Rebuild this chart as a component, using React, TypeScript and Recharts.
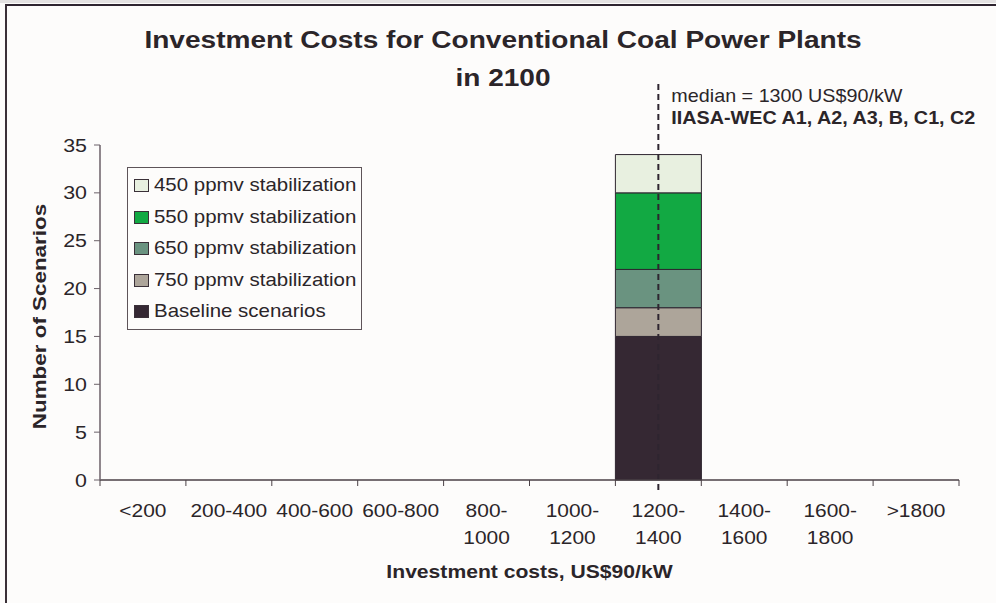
import React from 'react';
import { BarChart, Bar, XAxis, YAxis, Legend, ReferenceLine, Label } from 'recharts';

// ---------- data ----------
const categories = ['<200', '200-400', '400-600', '600-800', '800-\n1000', '1000-\n1200', '1200-\n1400', '1400-\n1600', '1600-\n1800', '>1800'];
const baselineScenarios = [0, 0, 0, 0, 0, 0, 15, 0, 0, 0];
const ppmv750 = [0, 0, 0, 0, 0, 0, 3, 0, 0, 0];
const ppmv650 = [0, 0, 0, 0, 0, 0, 4, 0, 0, 0];
const ppmv550 = [0, 0, 0, 0, 0, 0, 8, 0, 0, 0];
const ppmv450 = [0, 0, 0, 0, 0, 0, 4, 0, 0, 0];
const yTicks = [0, 5, 10, 15, 20, 25, 30, 35];
const medianCategory = '1200-\n1400';
const medianLabel = 'median = 1300 US$90/kW';
const scenarioLabel = 'IIASA-WEC A1, A2, A3, B, C1, C2';
const titleLines = ['Investment Costs for Conventional Coal Power Plants', 'in 2100'];
const xAxisTitle = 'Investment costs, US$90/kW';
const yAxisTitle = 'Number of Scenarios';

const series = [
  { key: 'baseline', name: 'Baseline scenarios', color: '#352833', values: baselineScenarios },
  { key: 'p750', name: '750 ppmv stabilization', color: '#ada59a', values: ppmv750 },
  { key: 'p650', name: '650 ppmv stabilization', color: '#6a9380', values: ppmv650 },
  { key: 'p550', name: '550 ppmv stabilization', color: '#12a943', values: ppmv550 },
  { key: 'p450', name: '450 ppmv stabilization', color: '#e8f0e0', values: ppmv450 },
];

const data = categories.map((cat, i) => {
  const row: Record<string, any> = { cat };
  series.forEach((s) => { row[s.key] = s.values[i]; });
  return row;
});

// ---------- styles ----------
const FONT = '"Liberation Sans", Arial, Helvetica, sans-serif';
const TEXT = '#2b2529';
const BG = '#fdfcfb';
const X_TICK_SIZE = 6;
const K = 1.15; // horizontal glyph stretch of the reference's font

const stretch = (x: number, k: number = K) => `translate(${x} 0) scale(${k} 1) translate(${-x} 0)`;

const CatTick = (props: any) => {
  const { x, y, payload, index } = props;
  const lines = String(payload.value).split('\n');
  const half = payload.offset ?? 0;
  const axisY = y - X_TICK_SIZE;
  const isLast = payload.value === categories[categories.length - 1] || index === categories.length - 1;
  return (
    <g>
      <line x1={x - half} x2={x - half} y1={axisY} y2={axisY + X_TICK_SIZE} stroke="#4a4046" strokeWidth={1} />
      {isLast && <line x1={x + half} x2={x + half} y1={axisY} y2={axisY + X_TICK_SIZE} stroke="#4a4046" strokeWidth={1} />}
      <text x={x} y={y} transform={stretch(x)} textAnchor="middle" fill={TEXT} fontSize={18.2} fontFamily={FONT}>
        {lines.map((l, i) => (
          <tspan key={i} x={x} dy={i === 0 ? 31 : 27}>{l}</tspan>
        ))}
      </text>
    </g>
  );
};

const ValueTick = (props: any) => {
  const { x, y, payload } = props;
  return (
    <text x={x} y={y} dy="0.355em" transform={stretch(x)} textAnchor="end" fill={TEXT} fontSize={18.6} fontFamily={FONT}>
      {payload.value}
    </text>
  );
};

const MedianShape = (p: any) => {
  const x = p.x1;
  const top = Math.min(p.y1, p.y2);
  const bottom = Math.max(p.y1, p.y2);
  const tx = x + 13;
  return (
    <g>
      <line x1={x} x2={x} y1={top - 61} y2={bottom + 12} stroke="#2e2530" strokeWidth={2} strokeDasharray="6 4" />
      <text x={tx} y={top - 43} transform={stretch(tx, 1.11)} fill={TEXT} fontSize={17.8} fontFamily={FONT}>{medianLabel}</text>
      <text x={tx} y={top - 21} transform={stretch(tx, 1.11)} fill={TEXT} fontSize={17.8} fontWeight="bold" fontFamily={FONT}>{scenarioLabel}</text>
    </g>
  );
};

const LegendBox = (props: any) => {
  const payload = props.payload || [];
  const order = (v: string) => series.findIndex((s) => s.name === v);
  const items = [...payload].sort((a: any, b: any) => order(b.value) - order(a.value));
  return (
    <div style={{ border: '1px solid #5e5459', background: BG, padding: '2px 6px 1px 6px', fontFamily: FONT, fontSize: 17.8, color: TEXT, width: 221 }}>
      {items.map((it: any) => (
        <div key={it.value} style={{ display: 'flex', alignItems: 'center', height: 31.5, whiteSpace: 'nowrap' }}>
          <span style={{ display: 'inline-block', width: 13, height: 11, border: '1px solid #3a3038', background: it.color, marginRight: 5, flex: 'none' }} />
          <span style={{ display: 'inline-block', transform: 'scaleX(1.15)', transformOrigin: 'left center' }}>{it.value}</span>
        </div>
      ))}
    </div>
  );
};

export default function App() {
  return (
    <div style={{ position: 'absolute', left: 0, top: 0, width: 996, height: 603, background: BG, overflow: 'hidden' }}>
      <style>{'body{margin:0;background:' + BG + ';}'}</style>
      <div style={{ position: 'absolute', left: 0, top: 0, width: 996, height: 3, background: '#e4e2e2' }} />
      <div style={{ position: 'absolute', left: 0, top: 21, width: 1006, textAlign: 'center', fontFamily: FONT, fontWeight: 'bold', fontSize: 23, lineHeight: '38px', color: TEXT, zIndex: 2, transform: 'scaleX(1.22)', transformOrigin: '503px 0' }}>
        {titleLines.map((t) => (<div key={t}>{t}</div>))}
      </div>
      <BarChart width={996} height={603} data={data} margin={{ top: 145, right: 37, bottom: 0, left: 0 }} barCategoryGap={0} barGap={0}>
        <XAxis xAxisId="top" orientation="top" dataKey="cat" height={0} tick={false} tickLine={false} axisLine={{ stroke: '#aca49f', strokeWidth: 1.5 }} />
        <YAxis yAxisId="right" orientation="right" width={0} domain={[0, 35]} tick={false} tickLine={false} axisLine={{ stroke: '#aca49f', strokeWidth: 1.5 }} />
        <XAxis dataKey="cat" height={123} interval={0} tickLine={false} tickSize={X_TICK_SIZE} tickMargin={0} tick={<CatTick />} axisLine={{ stroke: '#4a4046', strokeWidth: 1.5 }}>
          <Label
            content={(lp: any) => {
              const vb = lp.viewBox || {};
              const cx = vb.x + vb.width / 2;
              return (
                <text x={cx} y={vb.y + 98} transform={stretch(cx, 1.1)} textAnchor="middle" fill={TEXT} fontSize={19.2} fontWeight="bold" fontFamily={FONT}>{xAxisTitle}</text>
              );
            }}
          />
        </XAxis>
        <YAxis width={100} domain={[0, 35]} ticks={yTicks} interval={0} tickSize={6} tickMargin={7}
          tick={<ValueTick />} tickLine={{ stroke: '#6b6168' }} axisLine={{ stroke: '#6b6168', strokeWidth: 1.5 }}>
          <Label
            content={(lp: any) => {
              const vb = lp.viewBox || {};
              const cx = vb.x + 46;
              const cy = vb.y + vb.height / 2 + 4;
              return (
                <text x={cx} y={cy} transform={`rotate(-90, ${cx}, ${cy}) ${stretch(cx, 1.18)}`} textAnchor="middle" fill={TEXT} fontSize={19} fontWeight="bold" fontFamily={FONT}>{yAxisTitle}</text>
              );
            }}
          />
        </YAxis>
        {series.map((s) => (
          <Bar key={s.key} dataKey={s.key} name={s.name} stackId="stack" fill={s.color} stroke="#2e2530" strokeWidth={1} isAnimationActive={false} />
        ))}
        <ReferenceLine x={medianCategory} ifOverflow="visible" shape={MedianShape} />
        <Legend content={<LegendBox />} layout="vertical" align="center" verticalAlign="middle" wrapperStyle={{ left: 127, top: 167, width: 'auto', height: 'auto' }} />
      </BarChart>
      <div style={{ position: 'absolute', left: 5, top: 4, width: 991, height: 599, borderTop: '2px solid #2e2530', borderLeft: '2px solid #3a3038', boxSizing: 'border-box', pointerEvents: 'none' }} />
    </div>
  );
}
